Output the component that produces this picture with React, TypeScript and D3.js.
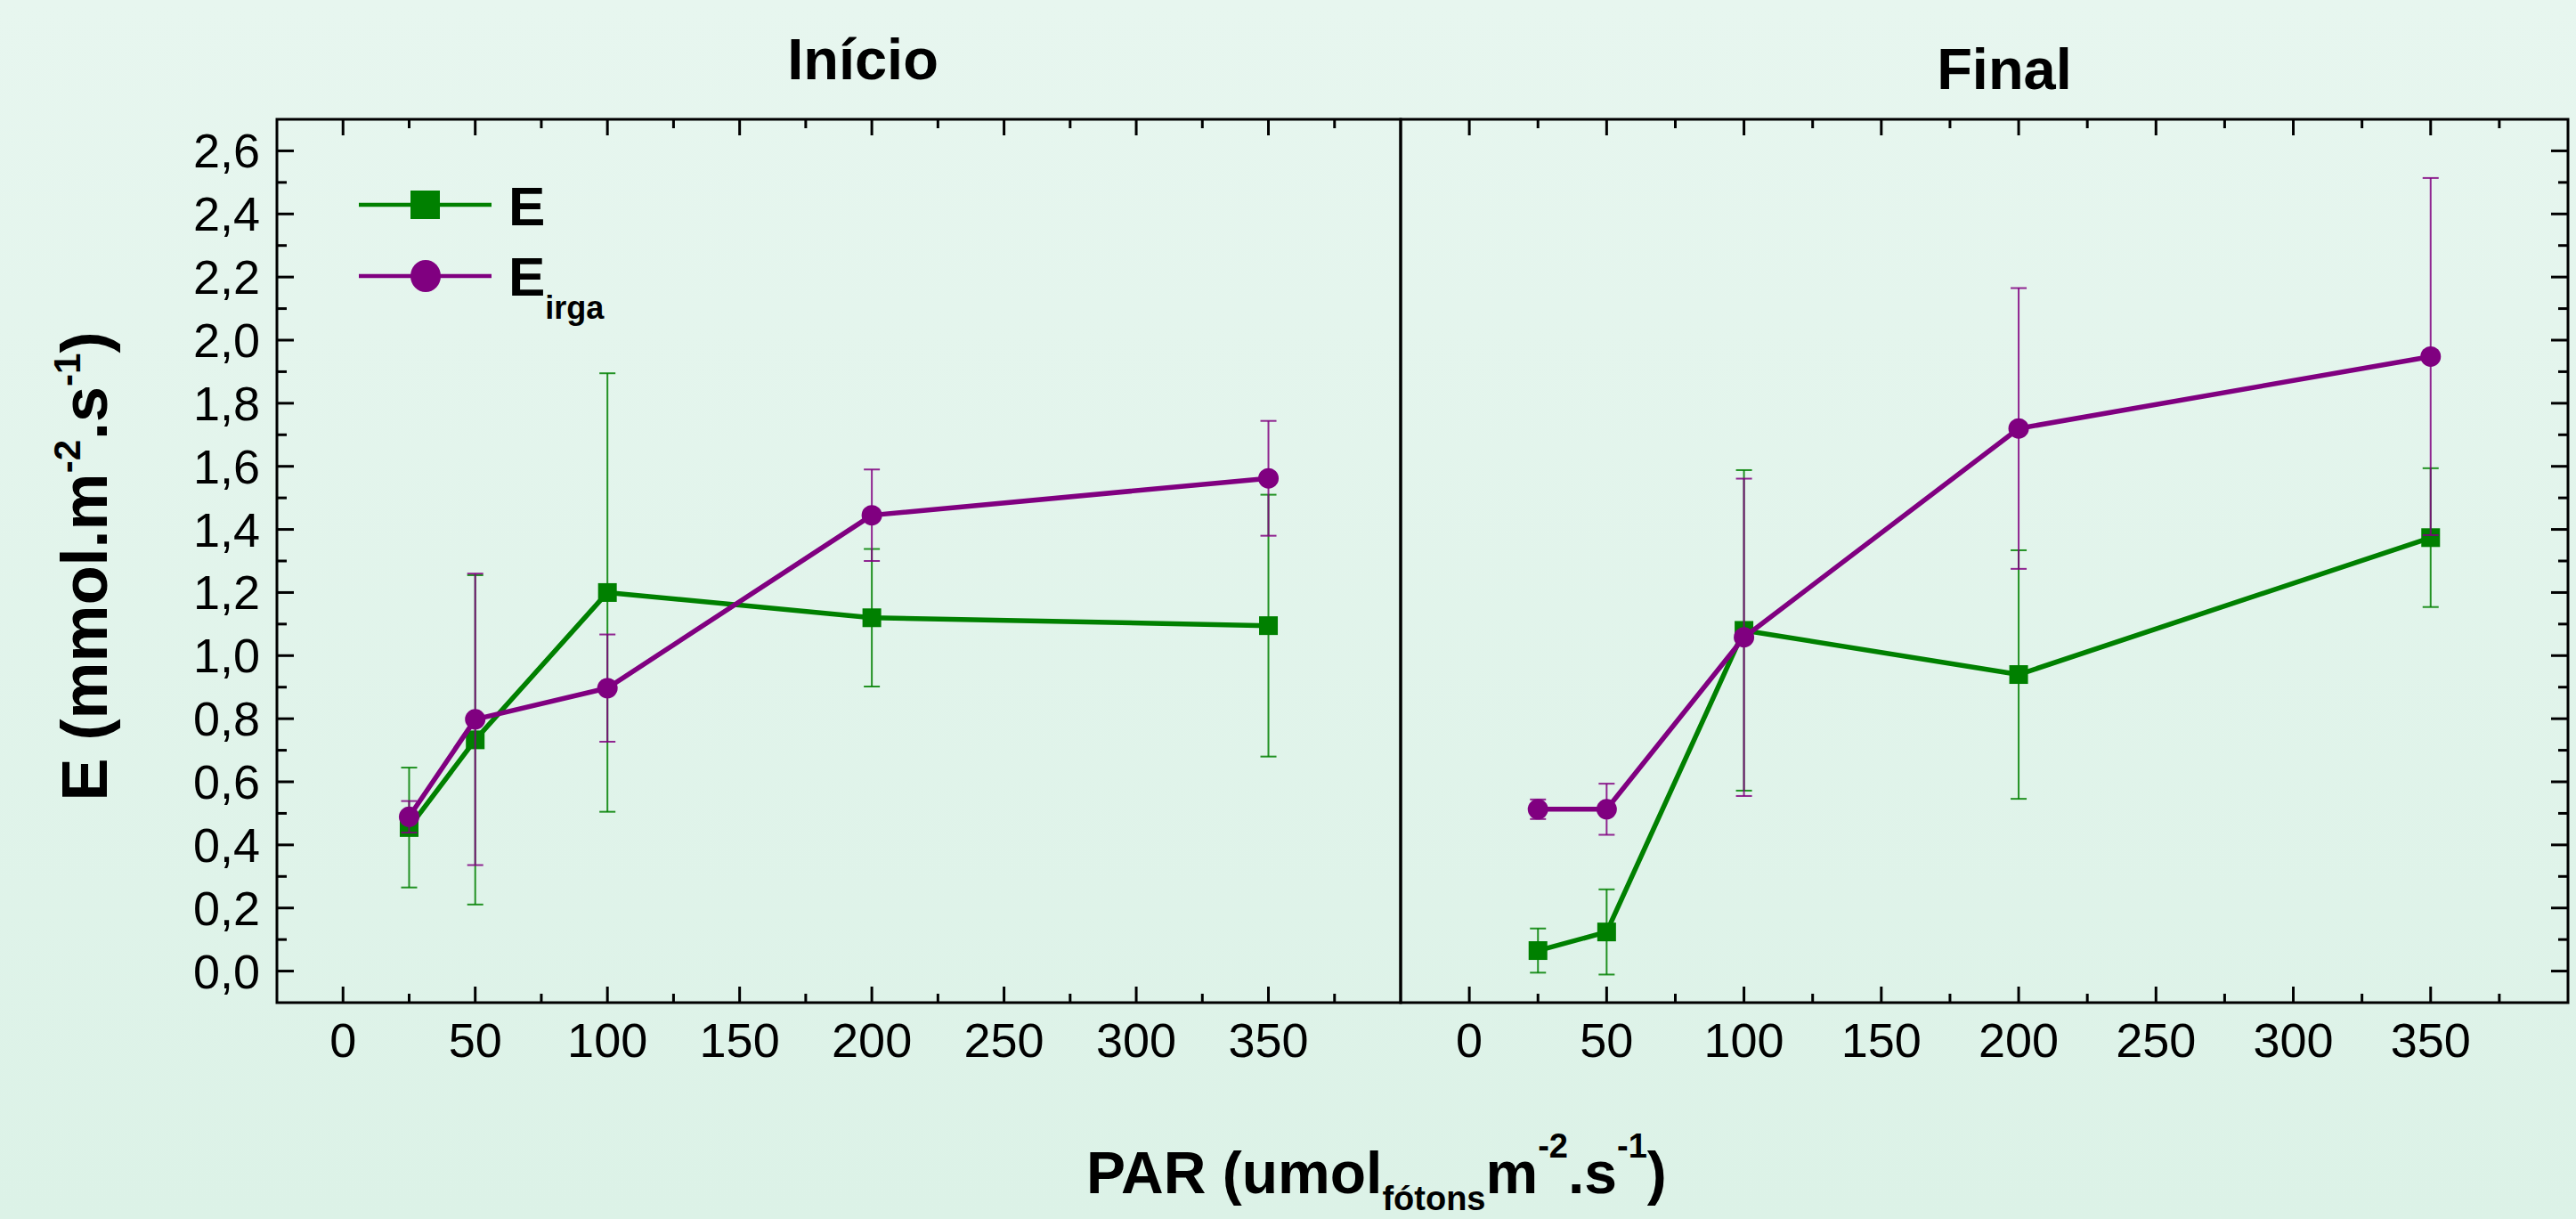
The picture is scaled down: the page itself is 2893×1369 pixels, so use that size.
import React, { useEffect, useRef } from "react";
import * as d3 from "d3";

// PAR levels (umol fotons m-2 s-1)
const parLevels = [25, 50, 100, 200, 350];

// Início
const inicioE = [0.455, 0.733, 1.2, 1.12, 1.095];
const inicioEErr = [0.19, 0.522, 0.695, 0.218, 0.415];
const inicioEirga = [0.489, 0.798, 0.897, 1.445, 1.562];
const inicioEirgaErr = [0.05, 0.462, 0.17, 0.145, 0.182];

// Final
const finalE = [0.065, 0.124, 1.08, 0.94, 1.374];
const finalEErr = [0.07, 0.135, 0.508, 0.394, 0.22];
const finalEirga = [0.513, 0.513, 1.058, 1.72, 1.948];
const finalEirgaErr = [0.031, 0.081, 0.503, 0.445, 0.566];

const xTicksMajor = [0, 50, 100, 150, 200, 250, 300, 350];
const xTicksMinor = [25, 75, 125, 175, 225, 275, 325, 375];
const yTicksMajor = [0, 0.2, 0.4, 0.6, 0.8, 1.0, 1.2, 1.4, 1.6, 1.8, 2.0, 2.2, 2.4, 2.6];
const yTicksMinor = [0.1, 0.3, 0.5, 0.7, 0.9, 1.1, 1.3, 1.5, 1.7, 1.9, 2.1, 2.3, 2.5];

const panels = [
  { title: "Início", titleX: 969, titleY: 89, E: inicioE, EErr: inicioEErr, Ei: inicioEirga, EiErr: inicioEirgaErr, x0: 311, x1: 1573, leftTicks: true, rightTicks: false },
  { title: "Final", titleX: 2251, titleY: 100, E: finalE, EErr: finalEErr, Ei: finalEirga, EiErr: finalEirgaErr, x0: 1573, x1: 2884, leftTicks: false, rightTicks: true },
];

const GREEN = "#008000";
const PURPLE = "#800080";
const FONT = "'Liberation Sans', Arial, sans-serif";

const App = () => {
  const svgRef = useRef<SVGSVGElement>(null);

  useEffect(() => {
    const W = 2893;
    const H = 1369;
    const top = 134;
    const bottom = 1126;

    const svg = d3.select(svgRef.current).attr("width", W).attr("height", H);
    svg.selectAll("*").remove();

    const defs = svg.append("defs");
    const grad = defs.append("linearGradient").attr("id", "bg").attr("x1", 0).attr("y1", 0).attr("x2", 0).attr("y2", 1);
    grad.append("stop").attr("offset", "0%").attr("stop-color", "#e7f6ef");
    grad.append("stop").attr("offset", "100%").attr("stop-color", "#dcf2e7");
    svg.append("rect").attr("width", W).attr("height", H).attr("fill", "url(#bg)");

    const y = d3.scaleLinear().domain([-0.1, 2.7]).range([bottom, top]);

    panels.forEach((p) => {
      const x = d3.scaleLinear().domain([-25, 400]).range([p.x0, p.x1]);
      const g = svg.append("g");

      // ticks
      const ticks = g.append("g").attr("stroke", "#000").attr("stroke-width", 3);
      [[xTicksMajor, 18], [xTicksMinor, 10]].forEach(([vals, len]: any) => {
        vals.forEach((v: number) => {
          ticks.append("line").attr("x1", x(v)).attr("x2", x(v)).attr("y1", bottom).attr("y2", bottom - len);
          ticks.append("line").attr("x1", x(v)).attr("x2", x(v)).attr("y1", top).attr("y2", top + len);
        });
      });
      [[yTicksMajor, 19], [yTicksMinor, 11]].forEach(([vals, len]: any) => {
        vals.forEach((v: number) => {
          if (p.leftTicks) ticks.append("line").attr("x1", p.x0).attr("x2", p.x0 + len).attr("y1", y(v)).attr("y2", y(v));
          if (p.rightTicks) ticks.append("line").attr("x1", p.x1).attr("x2", p.x1 - len).attr("y1", y(v)).attr("y2", y(v));
        });
      });

      // frame
      g.append("rect")
        .attr("x", p.x0).attr("y", top)
        .attr("width", p.x1 - p.x0).attr("height", bottom - top)
        .attr("fill", "none").attr("stroke", "#000").attr("stroke-width", 3);

      // x tick labels
      g.append("g")
        .selectAll("text")
        .data(xTicksMajor)
        .join("text")
        .attr("x", (d) => x(d))
        .attr("y", 1187)
        .attr("text-anchor", "middle")
        .attr("font-family", FONT)
        .attr("font-size", 54)
        .text((d) => d);

      if (p.leftTicks) {
        g.append("g")
          .selectAll("text")
          .data(yTicksMajor)
          .join("text")
          .attr("x", p.x0 - 19)
          .attr("y", (d) => y(d) + 19)
          .attr("text-anchor", "end")
          .attr("font-family", FONT)
          .attr("font-size", 54)
          .text((d) => d3.format(".1f")(d).replace(".", ","));
      }

      // title
      g.append("text")
        .attr("x", p.titleX).attr("y", p.titleY)
        .attr("text-anchor", "middle")
        .attr("font-family", FONT).attr("font-weight", "bold").attr("font-size", 65)
        .text(p.title);

      const series = [
        { vals: p.E, errs: p.EErr, color: GREEN, shape: "square" },
        { vals: p.Ei, errs: p.EiErr, color: PURPLE, shape: "circle" },
      ];

      series.forEach((s) => {
        const pts = parLevels.map((px, i) => ({ px, v: s.vals[i], e: s.errs[i] }));
        const eb = g.append("g").attr("stroke", s.color).attr("stroke-width", 2).attr("stroke-opacity", 0.85);
        pts.forEach((d) => {
          eb.append("line").attr("x1", x(d.px)).attr("x2", x(d.px)).attr("y1", y(d.v - d.e)).attr("y2", y(d.v + d.e));
          [d.v - d.e, d.v + d.e].forEach((c) => {
            eb.append("line").attr("x1", x(d.px) - 9).attr("x2", x(d.px) + 9).attr("y1", y(c)).attr("y2", y(c));
          });
        });

        const line = d3.line<any>().x((d) => x(d.px)).y((d) => y(d.v));
        g.append("path").datum(pts).attr("d", line)
          .attr("fill", "none").attr("stroke", s.color).attr("stroke-width", 5.5).attr("stroke-linejoin", "round");

        if (s.shape === "square") {
          g.append("g").selectAll("rect").data(pts).join("rect")
            .attr("x", (d) => x(d.px) - 10.5).attr("y", (d) => y(d.v) - 10.5)
            .attr("width", 21).attr("height", 21).attr("fill", s.color);
        } else {
          g.append("g").selectAll("circle").data(pts).join("circle")
            .attr("cx", (d) => x(d.px)).attr("cy", (d) => y(d.v))
            .attr("r", 11.5).attr("fill", s.color);
        }
      });
    });

    // legend
    const lg = svg.append("g");
    lg.append("line").attr("x1", 403).attr("x2", 552).attr("y1", 230).attr("y2", 230).attr("stroke", GREEN).attr("stroke-width", 4.5);
    lg.append("rect").attr("x", 461).attr("y", 214).attr("width", 33).attr("height", 32).attr("fill", GREEN);
    lg.append("text").attr("x", 571).attr("y", 253).attr("font-family", FONT).attr("font-weight", "bold").attr("font-size", 62).text("E");
    lg.append("line").attr("x1", 403).attr("x2", 552).attr("y1", 310).attr("y2", 310).attr("stroke", PURPLE).attr("stroke-width", 4.5);
    lg.append("ellipse").attr("cx", 478).attr("cy", 310).attr("rx", 17).attr("ry", 18).attr("fill", PURPLE);
    const le = lg.append("text").attr("x", 571).attr("y", 332).attr("font-family", FONT).attr("font-weight", "bold").attr("font-size", 62);
    le.append("tspan").text("E");
    le.append("tspan").attr("font-size", 36).attr("dy", 26).text("irga");

    // y axis title
    const yt = svg.append("text")
      .attr("transform", "translate(120,636) rotate(-90)")
      .attr("text-anchor", "middle")
      .attr("font-family", FONT).attr("font-weight", "bold").attr("font-size", 72);
    yt.append("tspan").text("E (mmol.m");
    yt.append("tspan").attr("font-size", 42).attr("dy", -30).text("-2");
    yt.append("tspan").attr("dy", 30).text(".s");
    yt.append("tspan").attr("font-size", 42).attr("dy", -30).text("-1");
    yt.append("tspan").attr("dy", 30).text(")");

    // x axis title
    const xt = svg.append("text")
      .attr("x", 1220).attr("y", 1340)
      .attr("font-family", FONT).attr("font-weight", "bold").attr("font-size", 66);
    xt.append("tspan").text("PAR (umol");
    xt.append("tspan").attr("font-size", 38).attr("dy", 19).text("fótons");
    xt.append("tspan").attr("dy", -19).text("m");
    xt.append("tspan").attr("font-size", 38).attr("dy", -40).text("-2");
    xt.append("tspan").attr("dy", 40).text(".s");
    xt.append("tspan").attr("font-size", 38).attr("dy", -40).text("-1");
    xt.append("tspan").attr("dy", 40).text(")");
  }, []);

  return (
    <div style={{ position: "absolute", left: 0, top: 0 }}>
      <svg ref={svgRef} style={{ display: "block" }} />
    </div>
  );
};

export default App;
